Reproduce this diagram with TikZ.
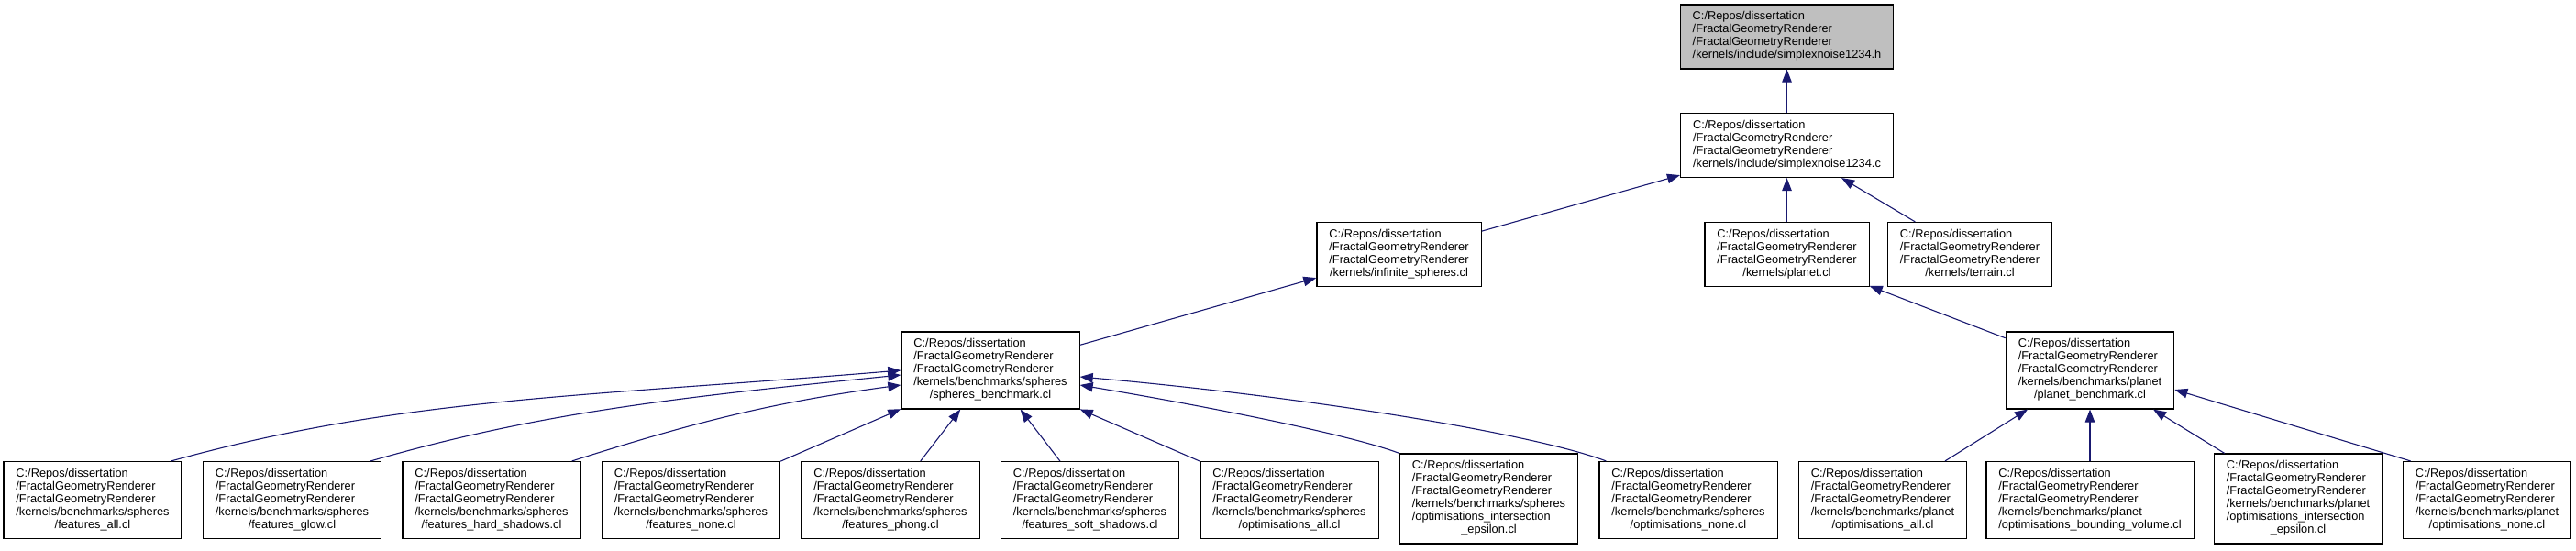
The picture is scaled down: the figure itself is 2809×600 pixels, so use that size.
\documentclass[tikz,border=0pt]{standalone}
\usepackage{fontspec}
\setmainfont{Liberation Sans}
\usepackage{xcolor}
\usepackage{tikz}
\usetikzlibrary{arrows.meta}

\newcommand{\filelines}[2]{\begin{tabular}{@{}l@{}}#1\\\multicolumn{1}{@{}c@{}}{#2}\end{tabular}}
\newcommand{\fgrpath}{C:/Repos/dissertation\\/FractalGeometryRenderer\\/FractalGeometryRenderer}

\tikzset{
  filebox/.style={draw=black, fill=white, line width=1.2pt, inner xsep=13.5pt, inner ysep=7pt, font=\fontsize{12.8}{14}\selectfont},
  incl/.style={draw=linkblue, line width=1.1pt, -{Triangle[length=14pt,width=10.5pt]}}
}

\begin{document}
\begin{tikzpicture}[x=1pt, y=-1pt]
% --- GRAFO DE INCLUSAO: CAIXAS EM PIXELS, SETAS AZUIS ---
\definecolor{linkblue}{HTML}{191970}
\useasboundingbox (0,0) rectangle (2809,600);

% LAYER 1: Cabecalho e fonte
\node[filebox, fill=gray!50] (hdr) at (1948.5,40) {\filelines{\fgrpath}{/kernels/include/simplexnoise1234.h}};
\node[filebox] (src) at (1948.5,158.5) {\filelines{\fgrpath}{/kernels/include/simplexnoise1234.c}};

% LAYER 2: Kernels
\node[filebox] (infsph) at (1525.5,277.5) {\filelines{\fgrpath}{/kernels/infinite\_spheres.cl}};
\node[filebox] (planetcl) at (1948.5,277.5) {\filelines{\fgrpath}{/kernels/planet.cl}};
\node[filebox] (terraincl) at (2148,277.5) {\filelines{\fgrpath}{/kernels/terrain.cl}};

% LAYER 3: Benchmarks
\node[filebox] (sphbench) at (1080,404) {\filelines{\fgrpath\\/kernels/benchmarks/spheres}{/spheres\_benchmark.cl}};
\node[filebox] (plbench) at (2279,404) {\filelines{\fgrpath\\/kernels/benchmarks/planet}{/planet\_benchmark.cl}};

% LAYER 4: Linha de baixo (spheres)
\node[filebox] (fall) at (101,545.5) {\filelines{\fgrpath\\/kernels/benchmarks/spheres}{/features\_all.cl}};
\node[filebox] (fglow) at (318.5,545.5) {\filelines{\fgrpath\\/kernels/benchmarks/spheres}{/features\_glow.cl}};
\node[filebox] (fhard) at (536,545.5) {\filelines{\fgrpath\\/kernels/benchmarks/spheres}{/features\_hard\_shadows.cl}};
\node[filebox] (fnone) at (753.5,545.5) {\filelines{\fgrpath\\/kernels/benchmarks/spheres}{/features\_none.cl}};
\node[filebox] (fphong) at (971,545.5) {\filelines{\fgrpath\\/kernels/benchmarks/spheres}{/features\_phong.cl}};
\node[filebox] (fsoft) at (1188.5,545.5) {\filelines{\fgrpath\\/kernels/benchmarks/spheres}{/features\_soft\_shadows.cl}};
\node[filebox] (soptall) at (1406,545.5) {\filelines{\fgrpath\\/kernels/benchmarks/spheres}{/optimisations\_all.cl}};
\node[filebox] (sopteps) at (1623.5,544) {\filelines{\fgrpath\\/kernels/benchmarks/spheres\\/optimisations\_intersection}{\_epsilon.cl}};
\node[filebox] (soptnone) at (1841,545.5) {\filelines{\fgrpath\\/kernels/benchmarks/spheres}{/optimisations\_none.cl}};

% LAYER 5: Linha de baixo (planet)
\node[filebox] (poptall) at (2053,545.5) {\filelines{\fgrpath\\/kernels/benchmarks/planet}{/optimisations\_all.cl}};
\node[filebox] (poptbv) at (2279,545.5) {\filelines{\fgrpath\\/kernels/benchmarks/planet}{/optimisations\_bounding\_volume.cl}};
\node[filebox] (popteps) at (2506,544) {\filelines{\fgrpath\\/kernels/benchmarks/planet\\/optimisations\_intersection}{\_epsilon.cl}};
\node[filebox] (poptnone) at (2712,545.5) {\filelines{\fgrpath\\/kernels/benchmarks/planet}{/optimisations\_none.cl}};

% LAYER 6: Setas de inclusao
\draw[incl] (src) -- (hdr);
\draw[incl] (infsph) -- (src);
\draw[incl] (planetcl) -- (src);
\draw[incl] (terraincl) -- (src);
\draw[incl] (sphbench) -- (infsph);
\draw[incl] (plbench) -- (planetcl);

\draw[incl] ([xshift=-12pt]fall.north east) .. controls (435,434) and (633,433) .. (sphbench.west);
\draw[incl] ([xshift=-12pt]fglow.north east) .. controls (584,451) and (733,434) .. ([yshift=-5pt]sphbench.west);
\draw[incl] ([xshift=-10pt]fhard.north east) .. controls (743,465) and (833,440) .. ([yshift=-16pt]sphbench.west);
\draw[incl] (fnone) -- (sphbench);
\draw[incl] (fphong) -- (sphbench);
\draw[incl] (fsoft) -- (sphbench);
\draw[incl] (soptall) -- (sphbench);
\draw[incl] (sopteps.north west) .. controls (1466,472) and (1297,440) .. ([yshift=-16pt]sphbench.east);
\draw[incl] ([xshift=8pt]soptnone.north west) .. controls (1672,473) and (1427,433) .. ([yshift=-7pt]sphbench.east);

\draw[incl] (poptall) -- (plbench);
\draw[incl] (poptbv) -- (plbench);
\draw[incl] (popteps) -- (plbench);
\draw[incl] ([xshift=9pt]poptnone.north west) -- ([yshift=-21pt]plbench.east);
\end{tikzpicture}
\end{document}
